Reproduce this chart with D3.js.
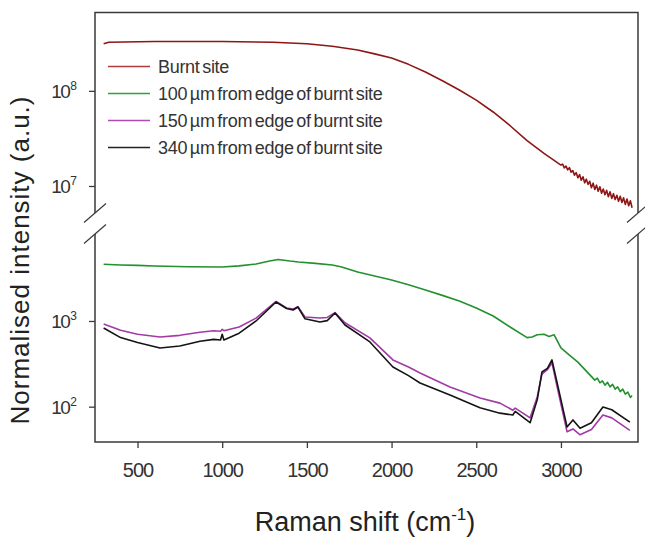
<!DOCTYPE html>
<html>
<head>
<meta charset="utf-8">
<script src="https://cdn.jsdelivr.net/npm/d3@7"></script>
<style>
  body { margin: 0; background: #fff; }
  text { font-family: "Liberation Sans", Arial, sans-serif; fill: #333; }
</style>
</head>
<body>
<svg id="chart" width="645" height="540"></svg>
<script>

//============================================================
// Data
//------------------------------------------------------------

var seriesNames = [
  'Burnt site',
  '100 \u00b5m from edge of burnt site',
  '150 \u00b5m from edge of burnt site',
  '340 \u00b5m from edge of burnt site'
];

var burntShift = [300, 330, 600, 1000, 1300, 1500, 1650, 1800, 1900, 2000, 2100, 2200, 2300, 2400, 2500,
  2600, 2700, 2800, 2900,
  3000, 3010, 3020, 3030, 3040, 3050, 3060, 3070, 3080, 3090, 3100, 3110, 3120, 3130, 3140, 3150,
  3160, 3170, 3180, 3190, 3200, 3210, 3220, 3230, 3240, 3250, 3260, 3270, 3280, 3290, 3300, 3310,
  3320, 3330, 3340, 3350, 3360, 3370, 3380, 3390, 3400, 3410, 3420];
var burntInt = [3.13e8, 3.25e8, 3.3e8, 3.3e8, 3.25e8, 3.13e8, 2.95e8, 2.69e8, 2.45e8, 2.22e8, 1.9e8, 1.58e8, 1.28e8, 1.02e8, 8.0e7,
  6.0e7, 4.3e7, 3.0e7, 2.2e7,
  1.66e7, 1.70e7, 1.55e7, 1.62e7, 1.48e7, 1.56e7, 1.40e7, 1.45e7, 1.30e7, 1.38e7, 1.22e7, 1.32e7, 1.15e7, 1.25e7, 1.08e7, 1.18e7,
  1.04e7, 1.12e7, 9.6e6, 1.07e7, 9.2e6, 1.02e7, 8.8e6, 9.8e6, 8.4e6, 9.3e6, 8.1e6, 9.0e6, 7.7e6, 8.7e6, 7.4e6, 8.3e6,
  7.2e6, 8.0e6, 6.9e6, 7.8e6, 6.7e6, 7.5e6, 6.4e6, 7.3e6, 6.2e6, 7.0e6, 5.9e6];

var edge100Shift = [300, 400, 500, 600, 800, 1000, 1100, 1200, 1280, 1330, 1400, 1450, 1550, 1650, 1700, 1800,
  1900, 2000, 2100, 2200, 2300, 2400, 2500, 2600, 2700, 2800, 2830, 2860, 2900, 2930, 2960, 3000,
  3050, 3100, 3150, 3200, 3215, 3230, 3245, 3260, 3275, 3290, 3305, 3320, 3335, 3350, 3365, 3380,
  3395, 3410, 3420];
var edge100Int = [4590, 4500, 4450, 4385, 4300, 4265, 4400, 4625, 5000, 5225, 5000, 4875, 4700, 4500, 4300, 3730,
  3350, 3008, 2640, 2300, 1990, 1710, 1420, 1143, 850, 640, 650, 690, 700, 660, 690, 484,
  400, 331, 260, 204, 215, 190, 200, 178, 192, 170, 182, 160, 170, 150, 160, 140,
  148, 128, 135];

// 150 um and 340 um share the same shift values
var edgeShift = [300, 400, 500, 633, 750, 869, 950, 990, 1000, 1010, 1100, 1200, 1318, 1380, 1419, 1447, 1489,
  1577, 1620, 1666, 1725, 1872, 2008, 2100, 2168, 2345, 2522, 2640, 2716, 2730, 2818, 2860, 2888,
  2920, 2947, 2975, 3036, 3071, 3113, 3180, 3248, 3300, 3407];
var edge150Int = [923, 780, 700, 650, 680, 740, 770, 760, 800, 770, 850, 1080, 1690, 1420, 1380, 1470, 1114,
  1084, 1100, 1250, 953, 634, 351, 290, 247, 170, 126, 110, 91, 96, 74, 130, 240,
  270, 324, 180, 51, 55, 47, 54, 80, 74, 53];
var edge340Int = [828, 640, 560, 484, 510, 580, 610, 600, 700, 600, 720, 1000, 1667, 1400, 1343, 1455, 1060,
  973, 1010, 1239, 897, 569, 290, 230, 189, 137, 97, 84, 80, 88, 65, 120, 254,
  280, 351, 200, 58, 70, 56, 65, 99, 92, 66];

var xTicks = [500, 1000, 1500, 2000, 2500, 3000];
var upperTicks = [1e7, 1e8];
var lowerTicks = [1e2, 1e3];

//============================================================


var colors = ['#8e1616', '#22912e', '#a23aa6', '#141414'];
var legendColors = ['#b03c3c', '#2aa33a', '#b04ab4', '#222'];

var frame = {left: 95, right: 638, top: 12.5, bottom: 442, breakTop: 213, breakBottom: 234};

var svg = d3.select('#chart');

//------------------------------------------------------------
// Scales

var x = d3.scaleLinear()
    .domain([249, 3455])
    .range([frame.left, frame.right]);

var yUpper = d3.scaleLog()
    .domain([5.2e6, 6.67e8])
    .range([frame.breakTop, frame.top]);

var yLower = d3.scaleLog()
    .domain([38.7, 10350])
    .range([frame.bottom, frame.breakBottom]);

//------------------------------------------------------------
// Frame with broken left/right axes

var frameG = svg.append('g')
    .attr('stroke', '#3a3a3a')
    .attr('stroke-width', 1.5)
    .attr('fill', 'none');

frameG.append('path')
    .attr('d', 'M' + frame.left + ',' + frame.breakTop + 'V' + frame.top + 'H' + frame.right + 'V' + frame.breakTop);
frameG.append('path')
    .attr('d', 'M' + frame.left + ',' + frame.breakBottom + 'V' + frame.bottom + 'H' + frame.right + 'V' + frame.breakBottom);

[frame.left, frame.right].forEach(function(xx) {
  [frame.breakTop, frame.breakBottom].forEach(function(yy) {
    frameG.append('line')
        .attr('x1', xx - 11).attr('y1', yy + 9.5)
        .attr('x2', xx + 11).attr('y2', yy - 9.5)
        .attr('stroke-width', 1.2);
  });
});

//------------------------------------------------------------
// Axes

var xAxis = svg.append('g')
    .attr('transform', 'translate(0,' + frame.bottom + ')')
    .call(d3.axisBottom(x).tickValues(xTicks).tickSize(6).tickSizeOuter(0).tickFormat(''));
xAxis.select('.domain').remove();
xAxis.selectAll('.tick line').attr('stroke', '#3a3a3a').attr('stroke-width', 1.3);
xAxis.selectAll('.tick').append('text')
    .attr('y', 35)
    .attr('text-anchor', 'middle')
    .attr('font-size', 20)
    .attr('letter-spacing', -1)
    .text(function(d) { return d; });

function logAxis(scale, ticks) {
  var g = svg.append('g')
      .attr('transform', 'translate(' + frame.left + ',0)')
      .call(d3.axisLeft(scale).tickValues(ticks).tickSize(6).tickSizeOuter(0).tickFormat(''));
  g.select('.domain').remove();
  g.selectAll('.tick line').attr('stroke', '#3a3a3a').attr('stroke-width', 1.3);
  var t = g.selectAll('.tick').append('text')
      .attr('x', -18)
      .attr('y', 7)
      .attr('text-anchor', 'end')
      .attr('font-size', 19)
      .attr('letter-spacing', -1.5);
  t.append('tspan').text('10');
  t.append('tspan')
      .attr('font-size', 12)
      .attr('dx', 1)
      .attr('dy', -8)
      .attr('letter-spacing', 0)
      .text(function(d) { return Math.round(Math.log10(d)); });
}
logAxis(yUpper, upperTicks);
logAxis(yLower, lowerTicks);

//------------------------------------------------------------
// Spectra

function drawSpectrum(shift, values, scale, color) {
  var pts = shift.map(function(s, i) { return [s, values[i]]; });
  svg.append('path')
      .datum(pts)
      .attr('fill', 'none')
      .attr('stroke', color)
      .attr('stroke-width', 1.6)
      .attr('stroke-linejoin', 'round')
      .attr('d', d3.line()
        .x(function(d) { return x(d[0]); })
        .y(function(d) { return scale(d[1]); })
      );
}

drawSpectrum(burntShift, burntInt, yUpper, colors[0]);
drawSpectrum(edge100Shift, edge100Int, yLower, colors[1]);
drawSpectrum(edgeShift, edge150Int, yLower, colors[2]);
drawSpectrum(edgeShift, edge340Int, yLower, colors[3]);

//------------------------------------------------------------
// Legend

var legend = svg.append('g').attr('transform', 'translate(108,66.5)');
var rows = legend.selectAll('g').data(seriesNames).enter().append('g')
    .attr('transform', function(d, i) { return 'translate(0,' + (i * 27) + ')'; });
rows.append('line')
    .attr('x1', 0).attr('x2', 42)
    .attr('stroke', function(d, i) { return legendColors[i]; })
    .attr('stroke-width', 1.6);
rows.append('text')
    .attr('x', 50)
    .attr('y', 6.5)
    .attr('font-size', 18)
    .attr('letter-spacing', -0.3)
    .attr('word-spacing', -2)
    .text(function(d) { return d; });

//------------------------------------------------------------
// Axis titles

svg.append('text')
    .attr('transform', 'translate(29,260) rotate(-90)')
    .attr('text-anchor', 'middle')
    .attr('font-size', 26)
    .attr('letter-spacing', 1)
    .style('fill', '#222')
    .text('Normalised intensity (a.u.)');

var xt = svg.append('text')
    .attr('x', 365)
    .attr('y', 531)
    .attr('text-anchor', 'middle')
    .attr('font-size', 27)
    .style('fill', '#222');
xt.append('tspan').text('Raman shift (cm');
xt.append('tspan').attr('font-size', 17).attr('dy', -11).text('-1');
xt.append('tspan').attr('dy', 11).text(')');

</script>
</body>
</html>
